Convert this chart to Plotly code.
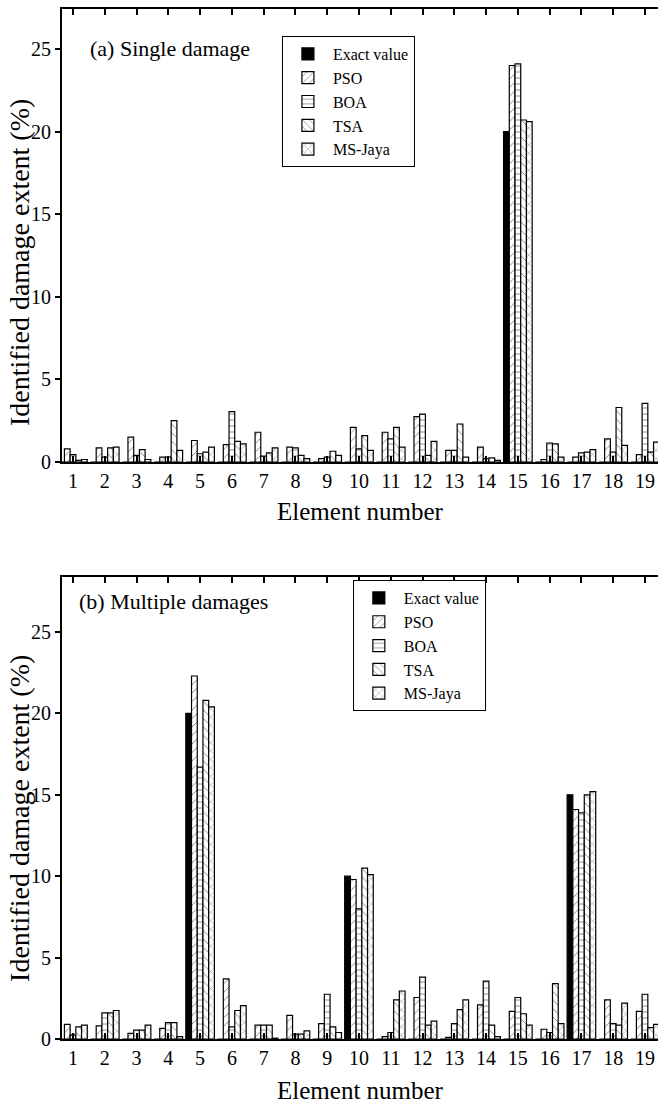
import plotly.graph_objects as go

elements = list(range(1, 20))
tick_labels = [str(e) for e in elements]
series_names = ["Exact value", "PSO", "BOA", "TSA", "MS-Jaya"]

# (a) Single damage
a_exact = [0, 0, 0, 0, 0, 0, 0, 0, 0, 0, 0, 0, 0, 0, 20, 0, 0, 0, 0]
a_pso   = [0.8, 0.85, 1.5, 0.3, 1.3, 1.05, 1.8, 0.9, 0.2, 2.1, 1.8, 2.75, 0.7, 0.9, 24.0, 0.15, 0.3, 1.4, 0.45]
a_boa   = [0.45, 0.3, 0.4, 0.3, 0.5, 3.05, 0.35, 0.85, 0.3, 0.8, 1.4, 2.9, 0.7, 0.2, 24.1, 1.15, 0.55, 0.6, 3.55]
a_tsa   = [0.1, 0.85, 0.75, 2.5, 0.6, 1.25, 0.55, 0.4, 0.65, 1.6, 2.1, 0.4, 2.3, 0.25, 20.7, 1.1, 0.6, 3.3, 0.6]
a_jaya  = [0.15, 0.9, 0.15, 0.7, 0.9, 1.1, 0.85, 0.2, 0.4, 0.7, 0.9, 1.25, 0.3, 0.1, 20.6, 0.3, 0.75, 1.0, 1.2]

# (b) Multiple damages
b_exact = [0, 0, 0, 0, 20, 0, 0, 0, 0, 10, 0, 0, 0, 0, 0, 0, 15, 0, 0]
b_pso   = [0.9, 0.8, 0.35, 0.65, 22.3, 3.7, 0.85, 1.45, 0.95, 9.8, 0.15, 2.55, 0.1, 2.1, 1.7, 0.6, 14.1, 2.4, 1.7]
b_boa   = [0.25, 1.6, 0.55, 1.0, 16.7, 0.75, 0.85, 0.3, 2.75, 8.0, 0.4, 3.8, 0.95, 3.55, 2.55, 0.4, 13.9, 0.95, 2.75]
b_tsa   = [0.75, 1.6, 0.55, 1.0, 20.8, 1.75, 0.85, 0.3, 0.75, 10.5, 2.4, 0.85, 1.8, 0.85, 1.55, 3.4, 15.0, 0.85, 0.7]
b_jaya  = [0.85, 1.75, 0.85, 0.15, 20.4, 2.05, 0.05, 0.5, 0.4, 10.1, 2.95, 1.1, 2.4, 0.15, 0.85, 0.95, 15.2, 2.2, 0.9]

y_ticks = [0, 5, 10, 15, 20, 25]
x_title = "Element number"
y_title = "Identified damage extent (%)"

patterns = ["", "/", "-", "\\", "x"]
fills = ["black", "white", "white", "white", "white"]

panel_a = [a_exact, a_pso, a_boa, a_tsa, a_jaya]
panel_b = [b_exact, b_pso, b_boa, b_tsa, b_jaya]

FONT = "Liberation Serif"
BLACK = "black"

fig = go.Figure()

for xa, ya, data, lg in [("x", "y", panel_a, "legend"), ("x2", "y2", panel_b, "legend2")]:
    for name, vals, pat, fc in zip(series_names, data, patterns, fills):
        fig.add_trace(
            go.Bar(
                x=elements, y=vals, name=name, legend=lg, xaxis=xa, yaxis=ya,
                marker=dict(
                    color=fc,
                    line=dict(color=BLACK, width=1.2),
                    pattern=dict(shape=pat, fgcolor=BLACK, bgcolor=fc,
                                 size=6, solidity=0.15),
                ),
            )
        )

tick_font = dict(family=FONT, size=20, color=BLACK)
xtitle_font = dict(family=FONT, size=25, color=BLACK)
ytitle_font = dict(family=FONT, size=28, color=BLACK)

X_RANGE = [0.654, 19.41]
TOP_DOM = [0.5602, 1.0]
BOT_DOM = [0.0, 0.4485]
RANGE_A = [0, 27.42]
RANGE_B = [0, 28.38]


def xaxis(anchor, standoff):
    return dict(
        domain=[0, 1], anchor=anchor, range=X_RANGE, automargin=False,
        tickvals=elements, ticktext=tick_labels,
        showline=True, linecolor=BLACK, linewidth=2, mirror="ticks",
        ticks="inside", ticklen=6, tickwidth=2, tickcolor=BLACK,
        showgrid=False, zeroline=False, tickfont=tick_font,
        title=dict(text=x_title, font=xtitle_font, standoff=standoff),
    )


def yaxis(anchor, dom, rng):
    return dict(
        domain=dom, anchor=anchor, range=rng, tickvals=y_ticks, automargin=False,
        showline=True, linecolor=BLACK, linewidth=2, mirror=True,
        ticks="outside", ticklen=5, tickwidth=2, tickcolor=BLACK,
        showgrid=False, zeroline=False, tickfont=tick_font,
    )


def yaxis_inner(anchor, over, rng):
    return dict(
        overlaying=over, anchor=anchor, range=rng, tickvals=y_ticks, automargin=False,
        showline=False, mirror="ticks", ticks="inside", ticklen=6,
        tickwidth=2, tickcolor=BLACK, showticklabels=False,
        showgrid=False, zeroline=False,
    )


legend_common = dict(
    xanchor="left", yanchor="top",
    bordercolor=BLACK, borderwidth=1, bgcolor="white",
    font=dict(family=FONT, size=16, color=BLACK),
    tracegroupgap=0, itemwidth=40,
)

fig.update_layout(
    width=658, height=1106,
    margin=dict(l=62, r=0, t=9, b=67, autoexpand=False),
    plot_bgcolor="white", paper_bgcolor="white",
    barmode="group", bargap=0.1, bargroupgap=0,
    font=dict(family=FONT, color=BLACK),
    xaxis=xaxis("y", 12),
    yaxis=yaxis("x", TOP_DOM, RANGE_A),
    xaxis2=xaxis("y2", 13),
    yaxis2=yaxis("x2", BOT_DOM, RANGE_B),
    yaxis3=yaxis_inner("x", "y", RANGE_A),
    yaxis4=yaxis_inner("x2", "y2", RANGE_B),
    legend=dict(x=0.369, y=0.9738, **legend_common),
    legend2=dict(x=0.488, y=0.4456, **legend_common),
    annotations=[
        dict(text="(a) Single damage", xref="paper", yref="paper", x=0.0436, y=0.9621,
             xanchor="left", yanchor="middle", showarrow=False,
             font=dict(family=FONT, size=22, color=BLACK)),
        dict(text="(b) Multiple damages", xref="paper", yref="paper", x=0.0252, y=0.4252,
             xanchor="left", yanchor="middle", showarrow=False,
             font=dict(family=FONT, size=22, color=BLACK)),
        dict(text=y_title, xref="paper", yref="paper", x=-0.0705, y=0.7544,
             xanchor="center", yanchor="middle", textangle=-90, showarrow=False,
             font=ytitle_font),
        dict(text=y_title, xref="paper", yref="paper", x=-0.0705, y=0.2146,
             xanchor="center", yanchor="middle", textangle=-90, showarrow=False,
             font=ytitle_font),
    ],
)

fig.write_html("out.html", config={"displayModeBar": False},
               post_script="document.body.style.margin='0px';")
